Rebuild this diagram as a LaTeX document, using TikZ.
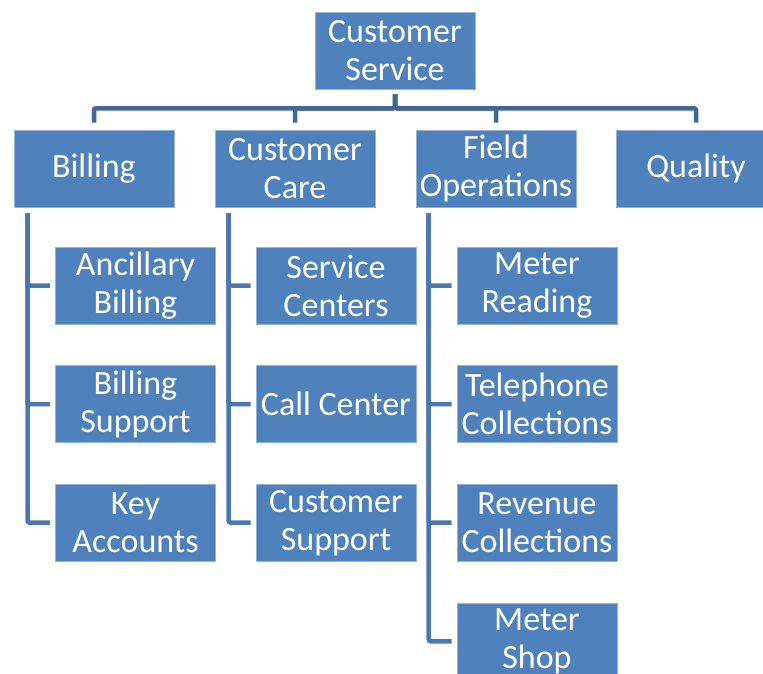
\documentclass[tikz,border=0pt]{standalone}
\usepackage{fontspec}
\setmainfont{Carlito}
\usetikzlibrary{positioning}
\definecolor{orgBlue}{HTML}{4F81BD}
\definecolor{barBlue}{HTML}{3F6797}
\definecolor{legBlue}{HTML}{4A77B0}

\begin{document}
\begin{tikzpicture}[x=1pt, y=-1pt,
    unit/.style={rectangle, fill=orgBlue, draw=orgBlue!60!white, line width=0.6pt,
                 minimum width=160pt, minimum height=77pt, inner sep=0pt,
                 text=white, align=center, font=\fontsize{34}{38}\selectfont},
    bar/.style={barBlue, line width=4.5pt, rounded corners=2pt,
                shorten <=5pt, shorten >=7pt},
    leg/.style={legBlue, line width=4.5pt, rounded corners=2pt,
                shorten <=6pt, shorten >=5pt}
  ]
    \useasboundingbox (0,0) rectangle (763,673);
    \clip (0,0) rectangle (763,673);

    % head
    \node[unit] (cs) at (395,50.5) {Customer\\Service};

    % departments
    \node[unit] (bill) at (94,168.5) {Billing};
    \node[unit] (care) at (295,168.5) {Customer\\Care};
    \node[unit] (field) at (496,168.5) {Field\\Operations};
    \node[unit] (qual) at (696,168.5) {Quality};

    % billing
    \node[unit] (ancil) at (135.5,285.5) {Ancillary\\Billing};
    \node[unit, below=41pt of ancil] (bsupp) {Billing\\Support};
    \node[unit, below=41pt of bsupp] (keyacc) {Key\\Accounts};

    % customer care
    \node[unit] (svc) at (336,285.5) {Service\\Centers};
    \node[unit, below=41pt of svc] (call) {Call Center};
    \node[unit, below=41pt of call] (csupp) {Customer\\Support};

    % field operations
    \node[unit] (mread) at (537,285.5) {Meter\\Reading};
    \node[unit, below=41pt of mread] (tel) {Telephone\\Collections};
    \node[unit, below=41pt of tel] (rev) {Revenue\\Collections};
    \node[unit, below=41pt of rev] (mshop) {Meter\\Shop};

    \foreach \d in {bill, care, field, qual}
      \draw[bar] (cs.south) -- ++(0,19) -| (\d.north);

    \foreach \c in {ancil, bsupp, keyacc}
      \draw[leg] ([xshift=14pt]bill.south west) |- (\c.west);
    \foreach \c in {svc, call, csupp}
      \draw[leg] ([xshift=14pt]care.south west) |- (\c.west);
    \foreach \c in {mread, tel, rev, mshop}
      \draw[leg] ([xshift=13pt]field.south west) |- (\c.west);
  \end{tikzpicture}
\end{document}
